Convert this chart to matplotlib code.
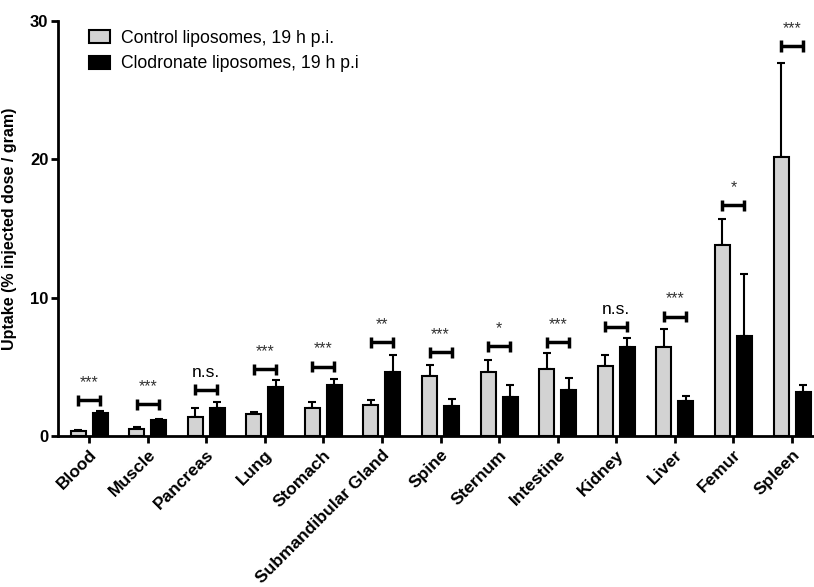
import numpy as np
import matplotlib.pyplot as plt
from matplotlib.patches import Patch

plt.rcParams['font.family'] = ['Liberation Sans', 'DejaVu Sans']

organs = ['Blood', 'Muscle', 'Pancreas', 'Lung', 'Stomach', 'Submandibular Gland',
          'Spine', 'Sternum', 'Intestine', 'Kidney', 'Liver', 'Femur', 'Spleen']
control = [0.38, 0.55, 1.40, 1.59, 2.05, 2.24, 4.36, 4.65, 4.84, 5.08, 6.43, 13.81, 20.15]
control_err = [0.10, 0.12, 0.65, 0.19, 0.41, 0.34, 0.75, 0.85, 1.14, 0.75, 1.31, 1.90, 6.80]
clodronate = [1.64, 1.16, 2.05, 3.57, 3.71, 4.65, 2.17, 2.80, 3.33, 6.43, 2.53, 7.23, 3.20]
clodronate_err = [0.19, 0.09, 0.41, 0.48, 0.43, 1.25, 0.53, 0.89, 0.89, 0.68, 0.38, 4.48, 0.49]
sig_labels = ['***', '***', 'n.s.', '***', '***', '**', '***', '*', '***', 'n.s.', '***', '*', '***']
sig_height = [2.6, 2.29, 3.37, 4.82, 5.01, 6.8, 6.05, 6.5, 6.8, 7.9, 8.63, 16.7, 28.2]

x = np.arange(len(organs))
w = 0.256
off = 0.188

fig = plt.figure(figsize=(8.14, 5.87), dpi=100)
ax = fig.add_axes([0.0713, 0.257, 0.9287, 0.707])

ax.bar(x - off, control, w, color='#d3d3d3', edgecolor='black', linewidth=1.5, zorder=3)
ax.bar(x + off, clodronate, w, color='black', edgecolor='black', linewidth=1.5, zorder=3)
ax.errorbar(x - off, control, yerr=[np.zeros(len(x)), control_err], fmt='none',
            ecolor='black', elinewidth=1.5, capsize=3, capthick=1.5, zorder=2)
ax.errorbar(x + off, clodronate, yerr=[np.zeros(len(x)), clodronate_err], fmt='none',
            ecolor='black', elinewidth=1.5, capsize=3, capthick=1.5, zorder=2)

# significance brackets
for xi, h, lab in zip(x, sig_height, sig_labels):
    x0, x1 = xi - off, xi + off
    ax.plot([x0, x1], [h, h], color='black', lw=2.5, solid_capstyle='butt')
    ax.plot([x0, x0], [h - 0.4, h + 0.4], color='black', lw=2.5, solid_capstyle='butt')
    ax.plot([x1, x1], [h - 0.4, h + 0.4], color='black', lw=2.5, solid_capstyle='butt')
    if lab == 'n.s.':
        ax.text(xi, h + 0.7, lab, ha='center', va='bottom', fontsize=12.5)
    else:
        ax.text(xi, h + 0.75, lab, ha='center', va='bottom', fontsize=11.5, color='#333333')

ax.set_xlim(-0.53, 12.375)
ax.set_ylim(0, 30)
ax.set_yticks([0, 10, 20, 30])
ax.set_xticks(x)
ax.set_xticklabels(organs, rotation=45, ha='right', rotation_mode='anchor',
                   fontsize=12.5, fontweight='bold')
for lab in ax.get_yticklabels():
    lab.set_fontweight('bold')
    lab.set_fontsize(12)
ax.tick_params(axis='both', width=2, length=5, direction='out')
ax.tick_params(axis='x', pad=3)
ax.tick_params(axis='y', pad=2)

for s in ['top', 'right']:
    ax.spines[s].set_visible(False)
ax.spines['left'].set_linewidth(2)
ax.spines['bottom'].set_linewidth(2)

ax.set_ylabel('Uptake (% injected dose / gram)', fontsize=11.5, fontweight='bold')
ax.yaxis.set_label_coords(-0.0543, 0.5)

handles = [Patch(facecolor='#d3d3d3', edgecolor='black', linewidth=1.5),
           Patch(facecolor='black', edgecolor='black', linewidth=1.5)]
ax.legend(handles, ['Control liposomes, 19 h p.i.', 'Clodronate liposomes, 19 h p.i'],
          loc='upper left', bbox_to_anchor=(0.027, 1.005), frameon=False, fontsize=12.7,
          handlelength=1.2, handleheight=0.8, handletextpad=0.6, labelspacing=0.5,
          borderaxespad=0.2)

fig.savefig('out.png', dpi=100)
